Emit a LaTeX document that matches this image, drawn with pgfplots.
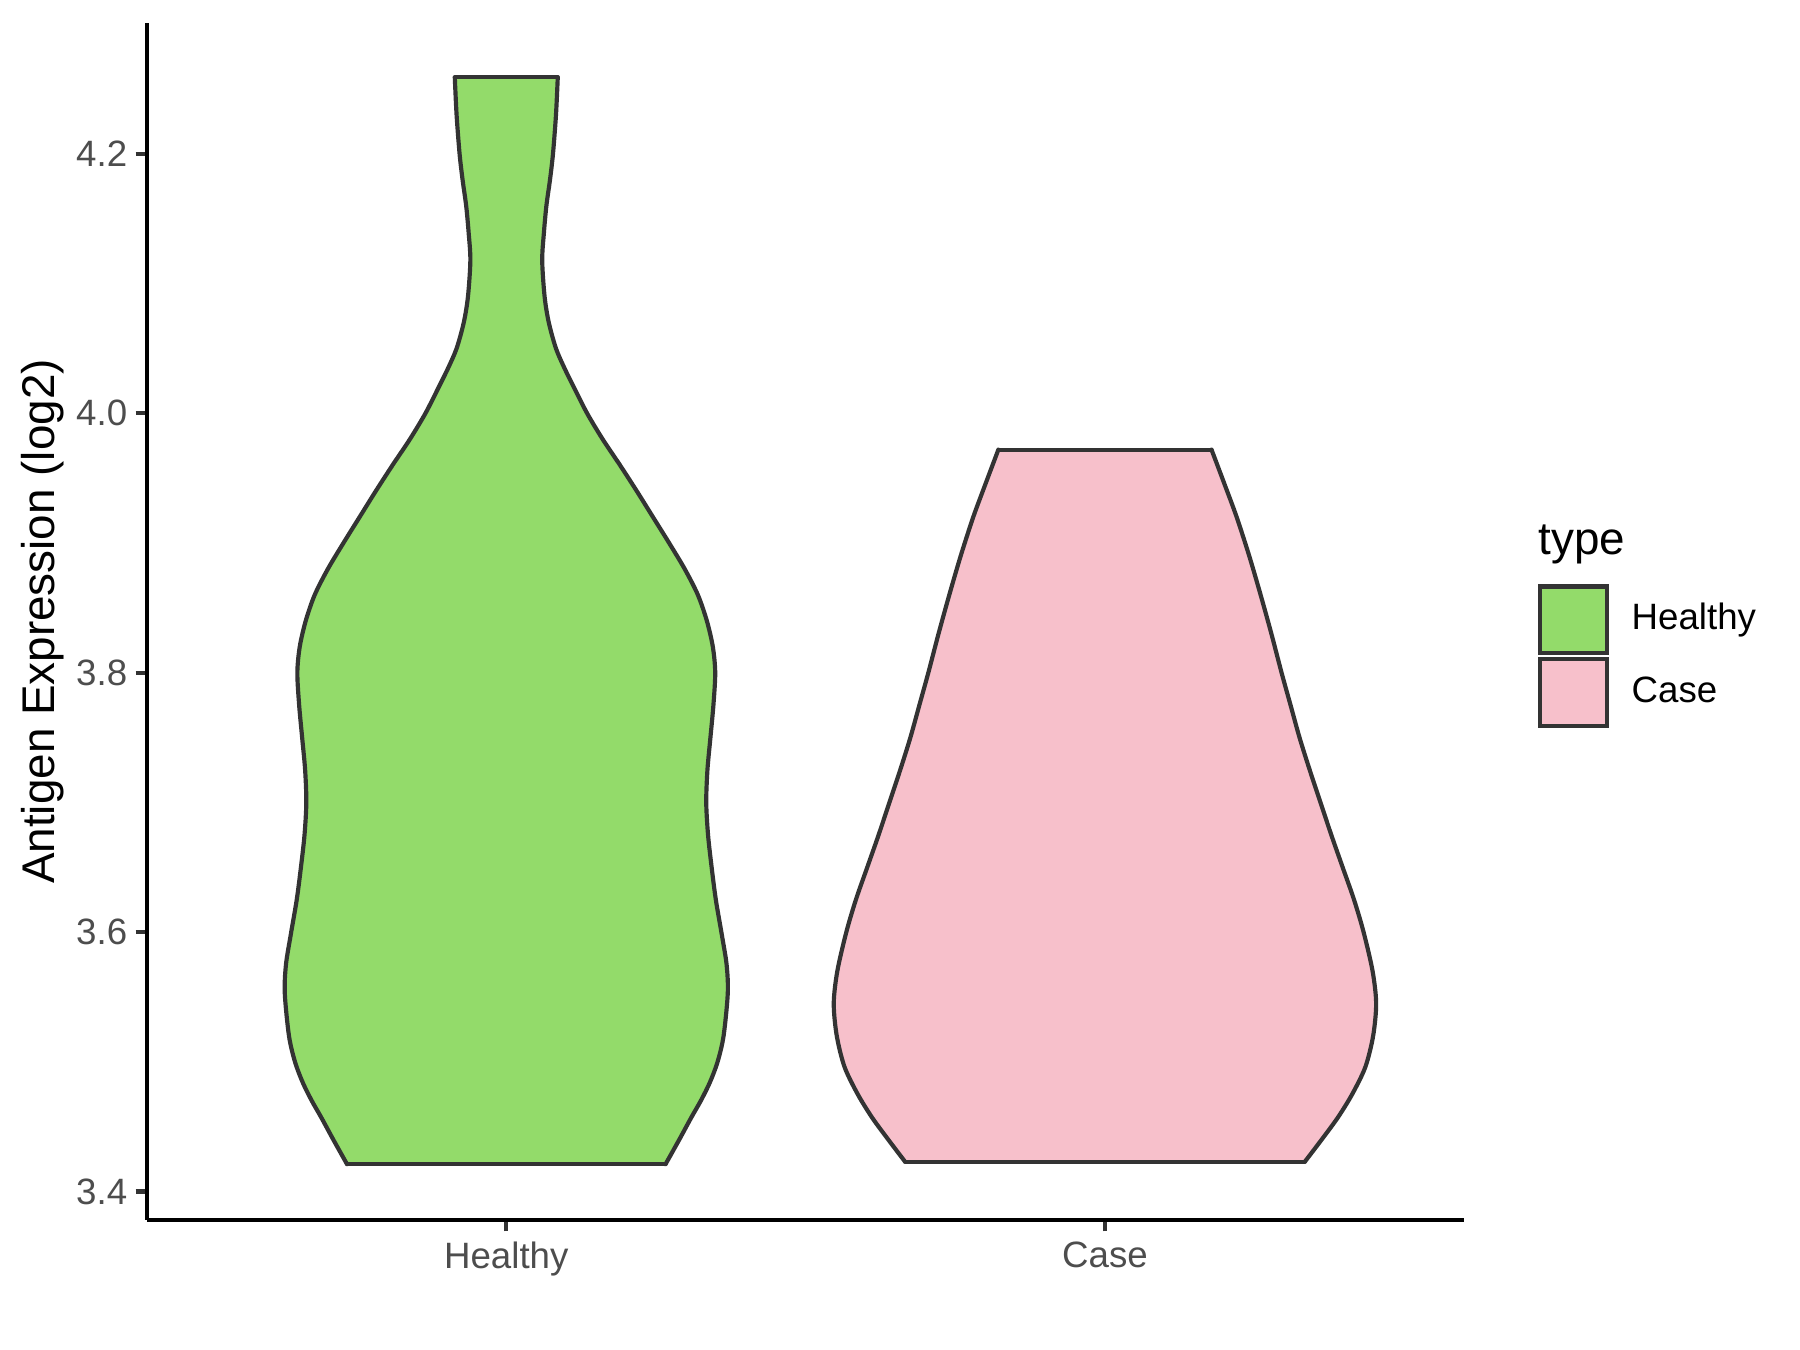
\documentclass[border=0pt]{standalone}
\usepackage{pgfplots}
\usepackage{pgfplotstable}
\pgfplotsset{compat=1.18}
\usepackage{fontspec}
\setmainfont{Liberation Sans}

\definecolor{healthy}{RGB}{147,219,106}
\definecolor{casepink}{RGB}{247,192,203}
\definecolor{outline}{RGB}{51,51,51}
\definecolor{ticktext}{RGB}{77,77,77}

% violin sides: value, left x, right x
\pgfplotstableread{
y      xl     xr
3.421  0.734  1.266
3.44   0.711  1.289
3.457  0.691  1.309
3.47   0.675  1.325
3.484  0.660  1.340
3.50   0.647  1.353
3.52   0.637  1.363
3.553  0.630  1.370
3.575  0.632  1.368
3.598  0.640  1.360
3.625  0.650  1.350
3.65   0.657  1.343
3.675  0.663  1.337
3.70   0.666  1.334
3.725  0.664  1.336
3.75   0.659  1.341
3.775  0.654  1.346
3.80   0.651  1.349
3.82   0.655  1.345
3.84   0.665  1.335
3.86   0.680  1.320
3.88   0.702  1.298
3.90   0.728  1.272
3.92   0.755  1.245
3.94   0.782  1.218
3.96   0.810  1.190
3.98   0.839  1.161
4.00   0.865  1.135
4.02   0.887  1.113
4.035  0.903  1.097
4.05   0.917  1.083
4.07   0.929  1.071
4.09   0.936  1.064
4.118  0.940  1.060
4.14   0.937  1.063
4.16   0.933  1.067
4.18   0.927  1.073
4.2    0.922  1.078
4.23   0.917  1.083
4.259  0.914  1.086
}\healthytab

\pgfplotstableread{
y      xl     xr
3.423  1.666  2.334
3.44   1.638  2.362
3.457  1.611  2.389
3.475  1.587  2.413
3.496  1.565  2.435
3.52   1.552  2.448
3.545  1.547  2.453
3.57   1.553  2.447
3.60   1.568  2.432
3.625  1.584  2.416
3.65   1.603  2.397
3.675  1.622  2.378
3.70   1.640  2.360
3.725  1.658  2.342
3.75   1.675  2.325
3.775  1.690  2.310
3.80   1.705  2.295
3.83   1.722  2.278
3.86   1.740  2.260
3.89   1.759  2.241
3.92   1.780  2.220
3.945  1.800  2.200
3.972  1.822  2.178
}\casetab

\begin{document}
\begin{tikzpicture}
\path[use as bounding box] (0,0) rectangle (432pt,324pt);
\begin{axis}[
    at={(35.3pt,31.2pt)}, anchor=south west,
    scale only axis,
    width=316.1pt, height=287.3pt,
    xmin=0.4, xmax=2.6,
    ymin=3.378, ymax=4.301,
    axis lines*=left,
    axis line style={black, line width=1.0pt, -},
    xtick={1,2},
    xticklabels={Healthy,Case},
    ytick={3.4,3.6,3.8,4.0,4.2},
    tick align=outside,
    major tick length=2.75pt,
    tick style={outline, line width=1.0pt},
    /pgf/number format/assume math mode=true,
    yticklabel style={xshift=1.5pt, /pgf/number format/.cd, fixed, fixed zerofill, precision=1},
    xticklabel style={yshift=1pt},
    ticklabel style={font=\fontsize{8.8}{10}\selectfont, text=ticktext},
    ylabel={Antigen Expression (log2)},
    ylabel style={font=\fontsize{11}{13}\selectfont, at={(axis description cs:-0.0795,0.5)}, anchor=center},
    legend style={at={(1.056,0.531)}, anchor=north west, draw=none, fill=none,
        inner sep=0pt, outer sep=0pt, row sep=0.5pt, column sep=5.5pt,
        font=\fontsize{8.8}{10}\selectfont, name=leg,
        nodes={inner sep=0pt}},
    legend cell align=left,
    legend image code/.code={\draw[#1, sharp plot] (0pt,-8pt) rectangle (16pt,8pt);},
    edge/.style={draw=outline, line width=1.0pt, line cap=round, line join=round, forget plot},
]
% fills (same outline, as a closed polygon)
\addplot[fill=healthy, draw=none, forget plot] coordinates {
(0.734,3.421) (0.711,3.44) (0.691,3.457) (0.675,3.47) (0.660,3.484)
(0.647,3.50) (0.637,3.52) (0.630,3.553) (0.632,3.575) (0.640,3.598) (0.650,3.625)
(0.657,3.65) (0.663,3.675) (0.666,3.70) (0.664,3.725) (0.659,3.75) (0.654,3.775)
(0.651,3.80) (0.655,3.82) (0.665,3.84) (0.680,3.86) (0.702,3.88) (0.728,3.90)
(0.755,3.92) (0.782,3.94) (0.810,3.96) (0.839,3.98) (0.865,4.00) (0.887,4.02)
(0.903,4.035) (0.917,4.05) (0.929,4.07) (0.936,4.09) (0.940,4.118) (0.937,4.14)
(0.933,4.16) (0.927,4.18) (0.922,4.2) (0.917,4.23) (0.914,4.259)
(1.086,4.259) (1.083,4.23) (1.078,4.2) (1.073,4.18) (1.067,4.16) (1.063,4.14)
(1.060,4.118) (1.064,4.09) (1.071,4.07) (1.083,4.05) (1.097,4.035) (1.113,4.02)
(1.135,4.00) (1.161,3.98) (1.190,3.96) (1.218,3.94) (1.245,3.92) (1.272,3.90)
(1.298,3.88) (1.320,3.86) (1.335,3.84) (1.345,3.82) (1.349,3.80) (1.346,3.775)
(1.341,3.75) (1.336,3.725) (1.334,3.70) (1.337,3.675) (1.343,3.65) (1.350,3.625)
(1.360,3.598) (1.368,3.575) (1.370,3.553) (1.363,3.52) (1.353,3.50) (1.340,3.484)
(1.325,3.47) (1.309,3.457) (1.289,3.44) (1.266,3.421)
};
\addplot[fill=casepink, draw=none, forget plot] coordinates {
(1.666,3.423) (1.638,3.44) (1.611,3.457) (1.587,3.475) (1.565,3.496)
(1.552,3.52) (1.547,3.545) (1.553,3.57) (1.568,3.60) (1.584,3.625) (1.603,3.65)
(1.622,3.675) (1.640,3.70) (1.658,3.725) (1.675,3.75) (1.690,3.775) (1.705,3.80)
(1.722,3.83) (1.740,3.86) (1.759,3.89) (1.780,3.92) (1.800,3.945) (1.822,3.972)
(2.178,3.972) (2.200,3.945) (2.220,3.92) (2.241,3.89) (2.260,3.86) (2.278,3.83)
(2.295,3.80) (2.310,3.775) (2.325,3.75) (2.342,3.725) (2.360,3.70) (2.378,3.675)
(2.397,3.65) (2.416,3.625) (2.432,3.60) (2.447,3.57) (2.453,3.545) (2.448,3.52)
(2.435,3.496) (2.413,3.475) (2.389,3.457) (2.362,3.44) (2.334,3.423)
};
% outlines: smooth sides, straight trimmed ends
\addplot[edge, smooth, tension=0.5] table[x=xl, y=y] {\healthytab};
\addplot[edge, smooth, tension=0.5] table[x=xr, y=y] {\healthytab};
\addplot[edge, sharp plot] coordinates {(0.914,4.259) (1.086,4.259)};
\addplot[edge, sharp plot] coordinates {(0.734,3.421) (1.266,3.421)};
\addplot[edge, smooth, tension=0.5] table[x=xl, y=y] {\casetab};
\addplot[edge, smooth, tension=0.5] table[x=xr, y=y] {\casetab};
\addplot[edge, sharp plot] coordinates {(1.822,3.972) (2.178,3.972)};
\addplot[edge, sharp plot] coordinates {(1.666,3.423) (2.334,3.423)};
% legend keys
\addlegendimage{fill=healthy, draw=outline, line width=1.0pt}
\addlegendentry{Healthy}
\addlegendimage{fill=casepink, draw=outline, line width=1.0pt}
\addlegendentry{Case}
\end{axis}
\node[anchor=base west, font=\fontsize{11}{13}\selectfont, inner sep=0pt] at ([yshift=7.1pt]leg.north west) {type};
\end{tikzpicture}
\end{document}
